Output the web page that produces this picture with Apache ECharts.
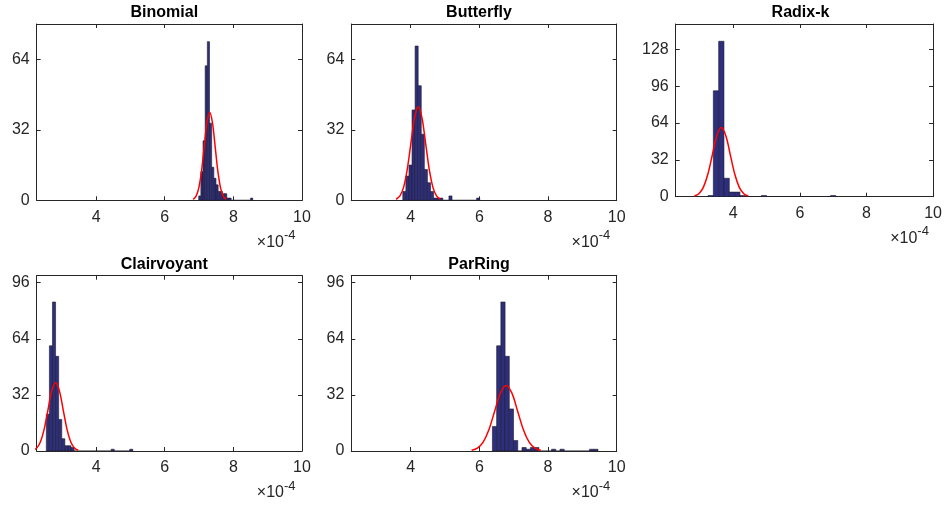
<!DOCTYPE html>
<html><head><meta charset="utf-8">
<script src="https://cdn.jsdelivr.net/npm/echarts@6/dist/echarts.min.js"></script>
<style>html,body{margin:0;padding:0;background:#fff}#c{width:945px;height:506px}</style>
</head><body><div id="c"></div>
<script>
// ---------------- data ----------------
const titles = ['Binomial', 'Butterfly', 'Radix-k', 'Clairvoyant', 'ParRing'];
const xTicks = [4, 6, 8, 10];
const xMin = 2.27, xMax = 10;
const yMaxes = [80, 80, 150, 100, 100];
const yTicksBinomial = [0, 32, 64];
const yTicksButterfly = [0, 32, 64];
const yTicksRadix = [0, 32, 64, 96, 128];
const yTicksClair = [0, 32, 64, 96];
const yTicksParRing = [0, 32, 64, 96];

// histogram bins (x in units of 1e-4)
const binStarts = [6.99, 3.77, 3.24, 2.55, 6.38];
const binWidths = [0.063, 0.0896, 0.16, 0.09, 0.123];
const binomialCounts = [2, 13, 27, 61, 72, 35, 15, 10, 7, 4, 4, 3, 3, 1, 1, 0, 0, 0, 0, 0, 0, 0, 0, 0, 1];
const butterflyCounts = [4, 11, 16, 41, 70, 52, 30, 14, 8, 4, 1, 1, 1, 0, 0, 2, 0, 0, 0, 0, 0, 0, 0, 0, 1];
const radixCounts = [1, 92, 135, 16, 4, 4, 1, 0, 0, 0, 1, 0, 0, 0, 0, 0, 0, 0, 0, 0, 0, 0, 0, 1];
const clairCounts = [21, 60, 85, 54, 18, 7, 3, 3, 2, 0, 0, 0, 0, 0, 0, 0, 0, 0, 0, 0, 0, 1, 0, 0, 0, 0, 0, 1];
const parRingCounts = [14, 60, 85, 54, 24, 6, 0, 2, 1, 2, 2, 0, 0, 0, 1, 0, 1, 0, 0, 0, 0, 0, 0, 1, 1];

// fitted normal curves
const binomialFitX = [6.83, 6.91, 6.99, 7.07, 7.15, 7.23, 7.31, 7.39, 7.47, 7.55, 7.63, 7.71, 7.79];
const binomialFitY = [0.44, 1.76, 5.41, 12.99, 24.26, 35.3, 40, 35.3, 24.26, 12.99, 5.41, 1.76, 0.44];
const butterflyFitX = [3.575, 3.6825, 3.79, 3.8975, 4.005, 4.1125, 4.22, 4.3275, 4.435, 4.5425, 4.65, 4.7575, 4.865];
const butterflyFitY = [0.47, 1.87, 5.75, 13.8, 25.78, 37.51, 42.5, 37.51, 25.78, 13.8, 5.75, 1.87, 0.47];
const radixFitX = [2.83, 2.965, 3.1, 3.235, 3.37, 3.505, 3.64, 3.775, 3.91, 4.045, 4.18, 4.315, 4.45];
const radixFitY = [0.67, 2.63, 8.12, 19.48, 36.39, 52.95, 60, 52.95, 36.39, 19.48, 8.12, 2.63, 0.67];
const clairFitX = [2.16, 2.27, 2.38, 2.49, 2.6, 2.71, 2.82, 2.93, 3.04, 3.15, 3.26, 3.37, 3.48];
const clairFitY = [0.43, 1.71, 5.28, 12.66, 23.65, 34.42, 39, 34.42, 23.65, 12.66, 5.28, 1.71, 0.43];
const parRingFitX = [5.775, 5.9425, 6.11, 6.2775, 6.445, 6.6125, 6.78, 6.9475, 7.115, 7.2825, 7.45, 7.6175, 7.785];
const parRingFitY = [0.42, 1.64, 5.06, 12.14, 22.68, 33.01, 37.4, 33.01, 22.68, 12.14, 5.06, 1.64, 0.42];

// ---------------- layout ----------------
const panels = [
  {left: 36.7, top: 24, width: 265.3, height: 176.3},
  {left: 351.3, top: 24, width: 265.4, height: 176.3},
  {left: 675.7, top: 24, width: 259.6, height: 172.7},
  {left: 36.7, top: 275.7, width: 265.3, height: 175.3},
  {left: 351.3, top: 275.7, width: 265.4, height: 175.3}
];
const countsAll = [binomialCounts, butterflyCounts, radixCounts, clairCounts, parRingCounts];
const yTicksAll = [yTicksBinomial, yTicksButterfly, yTicksRadix, yTicksClair, yTicksParRing];
const fitXAll = [binomialFitX, butterflyFitX, radixFitX, clairFitX, parRingFitX];
const fitYAll = [binomialFitY, butterflyFitY, radixFitY, clairFitY, parRingFitY];

const FONT = "'Liberation Sans', Arial, Helvetica, sans-serif";
const AX = '#262626';

const grids = [], xAxes = [], yAxes = [], series = [], graphics = [];

function renderBar(params, api) {
  const x0 = api.value(0), x1 = api.value(1), c = api.value(2);
  const p0 = api.coord([x0, c]);
  const p1 = api.coord([x1, 0]);
  return {
    type: 'rect',
    shape: {x: p0[0], y: p0[1], width: p1[0] - p0[0], height: p1[1] - p0[1]},
    style: {fill: '#2e2e7e', stroke: '#1c1c2c', lineWidth: 0.6}
  };
}

panels.forEach((p, i) => {
  grids.push({left: p.left, top: p.top, width: p.width, height: p.height, containLabel: false});
  const xBase = {
    type: 'value', gridIndex: i, min: xMin, max: xMax,
    splitLine: {show: false},
    axisLine: {show: true, onZero: false, lineStyle: {color: AX, width: 1}},
    axisTick: {show: true, inside: true, length: 4, customValues: xTicks, lineStyle: {color: AX}}
  };
  xAxes.push(Object.assign({}, xBase, {
    position: 'bottom',
    axisLabel: {show: true, customValues: xTicks, margin: 9, color: AX, fontSize: 16, fontFamily: FONT}
  }));
  xAxes.push(Object.assign({}, xBase, {position: 'top', axisLabel: {show: false}}));
  const yBase = {
    type: 'value', gridIndex: i, min: 0, max: yMaxes[i],
    splitLine: {show: false},
    axisLine: {show: true, onZero: false, lineStyle: {color: AX, width: 1}},
    axisTick: {show: true, inside: true, length: 4, customValues: yTicksAll[i], lineStyle: {color: AX}}
  };
  yAxes.push(Object.assign({}, yBase, {
    position: 'left',
    axisLabel: {show: true, customValues: yTicksAll[i], margin: 7, color: AX, fontSize: 16, fontFamily: FONT}
  }));
  yAxes.push(Object.assign({}, yBase, {position: 'right', axisLabel: {show: false}}));

  const counts = countsAll[i];
  const barData = counts.map((c, k) => [binStarts[i] + k * binWidths[i], binStarts[i] + (k + 1) * binWidths[i], c]);
  series.push({
    type: 'custom', xAxisIndex: 2 * i, yAxisIndex: 2 * i, clip: true,
    renderItem: renderBar, data: barData, silent: true, animation: false
  });
  series.push({
    type: 'line', xAxisIndex: 2 * i, yAxisIndex: 2 * i, clip: true,
    data: fitXAll[i].map((x, k) => [x, fitYAll[i][k]]),
    smooth: 0.35, showSymbol: false, symbol: 'none',
    lineStyle: {color: '#ff0000', width: 1.5}, z: 5, animation: false
  });

  const right = p.left + p.width, bottom = p.top + p.height;
  graphics.push({
    type: 'text', x: p.left + p.width / 2 - 5, y: p.top - 11.5,
    style: {text: titles[i], align: 'center', verticalAlign: 'middle', fill: '#000',
      font: 'bold 16px ' + FONT}
  });
  graphics.push({
    type: 'text', x: right - 18, y: bottom + 42,
    style: {text: '\u00d710', align: 'right', verticalAlign: 'middle', fill: AX, font: '16px ' + FONT}
  });
  graphics.push({
    type: 'text', x: right - 18, y: bottom + 35,
    style: {text: '-4', align: 'left', verticalAlign: 'middle', fill: AX, font: '13px ' + FONT}
  });
});

const chart = echarts.init(document.getElementById('c'), null, {renderer: 'canvas'});
chart.setOption({
  backgroundColor: '#ffffff',
  animation: false,
  grid: grids,
  xAxis: xAxes,
  yAxis: yAxes,
  series: series,
  graphic: graphics
});
</script>
</body></html>
